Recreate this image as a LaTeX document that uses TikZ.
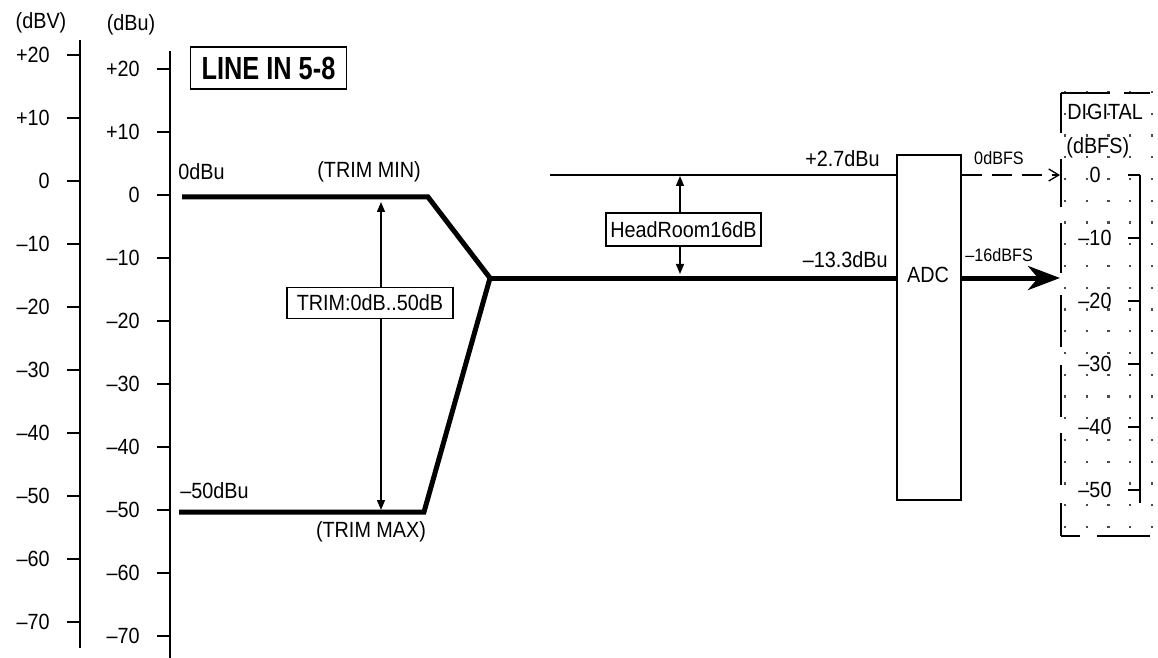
\documentclass[tikz,border=0pt]{standalone}
\usepackage{fontspec}
\setmainfont{Liberation Sans}[FakeStretch=0.9]
\usetikzlibrary{arrows.meta}
\begin{document}
\begin{tikzpicture}[x=0.5pt,y=-0.5pt,
  thinline/.style={line width=0.65pt},
  thickline/.style={line width=2.5pt, line join=miter},
  lbl/.style={inner sep=0pt, font=\fontsize{11}{13}\selectfont},
  smalllbl/.style={inner sep=0pt, font=\fontsize{9}{11}\selectfont},
  tickline/.style={line width=0.65pt},
  boxed/.style={draw, line width=0.65pt, fill=white, inner sep=0pt, font=\fontsize{11}{13}\selectfont},
  dimarrow/.style={line width=0.65pt, {Triangle[length=5pt,width=4pt]}-{Triangle[length=5pt,width=4pt]}},
  dotfill/.style={fill=black!70},
]
\useasboundingbox (0,0) rectangle (1158,658);

% dBV axis
\node[lbl] (dbv) at (41,23) {(dBV)};
\draw[thinline] (80,40) -- (80,648);
\foreach \v [count=\k from 0] in {+20,+10,0,--10,--20,--30,--40,--50,--60,--70} {
  \draw[tickline] (67,{55+63*\k}) -- (80,{55+63*\k});
  \node[lbl, anchor=east] (v\k) at (50,{55+63*\k}) {\v};
}
% dBu axis
\node[lbl] (dbu) at (131,25) {(dBu)};
\draw[thinline] (170,51) -- (170,658);
\foreach \v [count=\k from 0] in {+20,+10,0,--10,--20,--30,--40,--50,--60,--70} {
  \draw[tickline] (157,{69+63*\k}) -- (170,{69+63*\k});
  \node[lbl, anchor=east] (u\k) at (140,{69+63*\k}) {\v};
}

% title
\node[draw, line width=0.75pt, minimum width=78pt, minimum height=21pt, inner sep=0pt,
      font=\fontsize{16}{19}\selectfont\bfseries] (title) at (268.5,68) {\scalebox{0.88}[1]{LINE IN 5-8}};

% trim path
\coordinate (a0) at (182,197);
\coordinate (a1) at (428,197);
\coordinate (j) at (490,278);
\coordinate (b1) at (424,512);
\coordinate (b0) at (179,512);
\draw[thickline] (a0) -- (a1) -- (j) -- (b1) -- (b0);

\node[lbl, anchor=base west] (l0dbu) at (178,180) {0dBu};
\node[lbl, anchor=base] (tmin) at (369,177) {(TRIM MIN)};
\node[lbl, anchor=base west] (l50dbu) at (180,498) {--50dBu};
\node[lbl, anchor=base] (tmax) at (371,537) {(TRIM MAX)};

\coordinate (t0) at (381,202);
\coordinate (t1) at (381,510);
\draw[dimarrow] (t0) -- (t1);
\node[boxed, minimum width=83pt, minimum height=15.5pt] (trim) at (370,303) {TRIM:0dB..50dB};

% ADC
\node[draw, thinline, minimum width=32pt, minimum height=172.5pt, inner sep=0pt] (adc) at (929,327.5) {};
\node[lbl, anchor=base] (adclbl) at (928,282) {ADC};
\draw[thickline] (j) -- (j -| adc.west);

\coordinate (h0) at (550,175);
\draw[thinline] (h0) -- (h0 -| adc.west);
\node[lbl, anchor=base east] (l27) at (880,167) {+2.7dBu};
\node[lbl, anchor=base east] (l133) at (888,268) {--13.3dBu};

\coordinate (h1) at (680,176);
\coordinate (h2) at (680,274);
\draw[dimarrow] (h1) -- (h2);
\node[boxed, minimum width=77.5pt, minimum height=16.5pt] (hr) at (683.5,229.5) {HeadRoom16dB};

% outputs
\coordinate (d0) at (1060,175);
\coordinate (d16) at (1060,278);
\draw[thinline, dash pattern=on 10pt off 5pt, -{Straight Barb[length=5pt,width=6pt]}] (d0 -| adc.east) -- (d0);
\draw[line width=2.5pt, -{Stealth[length=16pt,width=12pt,inset=5pt]}] (j -| adc.east) -- (d16);
\node[smalllbl, anchor=base] (l0dbfs) at (999,165) {0dBFS};
\node[smalllbl, anchor=base west] (l16dbfs) at (965,262) {--16dBFS};

% digital scale
\foreach \j in {0,...,20} {
  \foreach \i in {0,...,4} {
    \fill[dotfill] ({1065+21.75*\i-1.2},{92+21.75*\j-1.2}) rectangle +(2.4,2.4);
  }
}
\foreach \ya/\yb in {93/133,159/207,223/273,295/347,365/417,433/485,503/536} {
  \draw[thinline] (1061,\ya) -- (1061,\yb);
}
\draw[thinline] (1061,93) -- (1110,93);
\draw[thinline] (1124,93) -- (1150,93);
\draw[thinline] (1061,536) -- (1080,536);
\draw[thinline] (1097,536) -- (1150,536);
\draw[thinline] (1140,175) -- (1140,503);
\foreach \v [count=\k from 0] in {0,--10,--20,--30,--40,--50} {
  \draw[tickline] (1128,{175+63*\k}) -- (1140,{175+63*\k});
  \node[lbl] (g\k) at (1095,{175+63*\k}) {\v};
}
\node[lbl, anchor=base west] (digital) at (1067,120) {DIGITAL};
\node[lbl, anchor=base west] (dbfs) at (1066,154) {(dBFS)};
\end{tikzpicture}
\end{document}
